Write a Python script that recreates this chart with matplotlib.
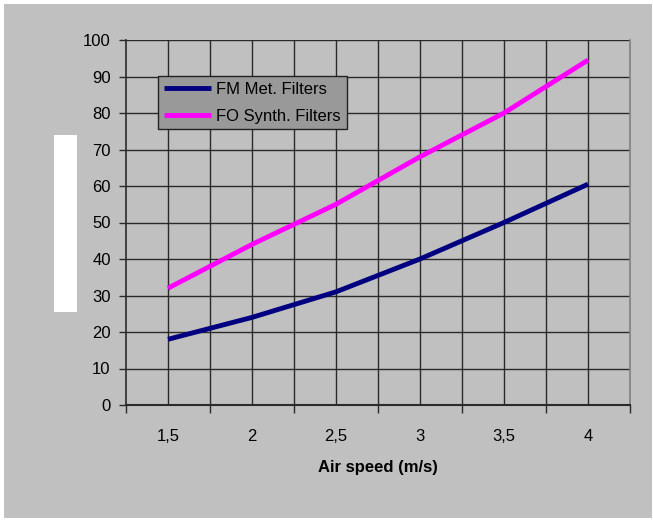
import matplotlib.pyplot as plt
from matplotlib.patches import Rectangle

# air speed (m/s) and filter values
speed = [1.5, 2.0, 2.5, 3.0, 3.5, 4.0]
speed_labels = ["1,5", "2", "2,5", "3", "3,5", "4"]
fm_met = [18, 24, 31, 40, 50, 60.5]
fo_synth = [32, 44, 55, 68, 80, 94.5]

plt.rcParams['font.family'] = ['Liberation Sans', 'DejaVu Sans']

W, H = 653, 520
fig = plt.figure(figsize=(W / 100, H / 100), dpi=100, facecolor='white')
# grey chart area with a thin white margin
fig.patches.append(Rectangle((4 / W, 2 / H), 648 / W, 514 / H, transform=fig.transFigure,
                             facecolor='#c0c0c0', edgecolor='none', zorder=-2))
# blank box where the y title sits
fig.patches.append(Rectangle((54 / W, 1 - 312 / H), 23 / W, 177 / H, transform=fig.transFigure,
                             facecolor='white', edgecolor='none', zorder=-1))

ax = fig.add_axes([126 / W, 1 - 405 / H, 504 / W, 365 / H])
ax.set_facecolor('#c0c0c0')

ax.plot(speed, fm_met, color='#000080', lw=3.5, label='FM Met. Filters', zorder=3,
        solid_capstyle='butt')
ax.plot(speed, fo_synth, color='#ff00ff', lw=3.5, label='FO Synth. Filters', zorder=3,
        solid_capstyle='butt')

ax.set_xlim(1.25, 4.25)
ax.set_ylim(0, 100)
ax.set_yticks(range(0, 101, 10))
ax.set_xticks(speed)
ax.set_xticklabels(speed_labels)
ax.set_xticks([1.25 + 0.5 * i for i in range(7)], minor=True)

# grid: horizontal at each 10, vertical at categories and their boundaries
for y in range(10, 101, 10):
    ax.axhline(y, color='#2a2a2a', lw=1.0, zorder=1)
for x in [1.25 + 0.25 * i for i in range(1, 12)]:
    ax.axvline(x, color='#2a2a2a', lw=1.0, zorder=1)

ax.spines['top'].set_visible(False)
ax.spines['right'].set_color('#808080')
ax.spines['right'].set_linewidth(1.2)
ax.spines['left'].set_color('#2a2a2a')
ax.spines['bottom'].set_color('#2a2a2a')
ax.spines['left'].set_linewidth(1.2)
ax.spines['bottom'].set_linewidth(1.5)

ax.tick_params(axis='y', direction='out', length=5, width=1, color='#2a2a2a',
               labelsize=12, pad=6)
ax.tick_params(axis='x', which='major', length=0, labelsize=12, pad=17)
ax.tick_params(axis='x', which='minor', direction='out', length=6, width=1, color='#2a2a2a')

ax.set_xlabel('Air speed (m/s)', fontsize=12, fontweight='bold', labelpad=12)

leg = ax.legend(loc='upper left', bbox_to_anchor=(158 / W, 1 - 76 / H),
                bbox_transform=fig.transFigure, fontsize=12, frameon=True, fancybox=False,
                facecolor='#999999', edgecolor='#222222', framealpha=1, borderpad=0.35,
                handlelength=2.8, handletextpad=0.35, labelspacing=0.7, borderaxespad=0)
leg.get_frame().set_linewidth(1.0)

fig.savefig('out.png', dpi=100, facecolor=fig.get_facecolor())
